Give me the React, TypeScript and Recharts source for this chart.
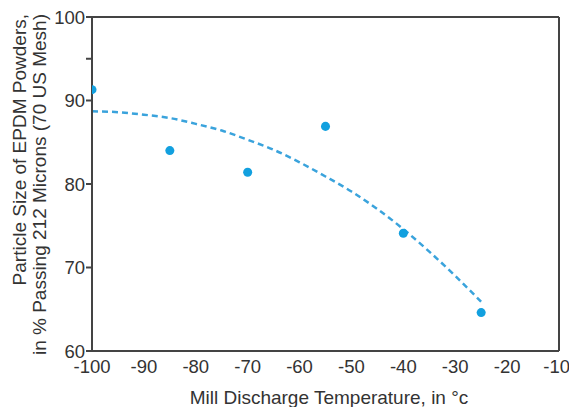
import { ComposedChart, Scatter, Line, XAxis, YAxis, ReferenceLine } from "recharts"

const temps = [-100, -85, -70, -55, -40, -25]
const passing = [91.3, 84.0, 81.4, 86.9, 74.1, 64.6]

const trendTemps = [-100, -95, -90, -85, -80, -75, -70, -65, -60, -55, -50, -45, -40, -35, -30, -25]
const trendValues = [88.7, 88.6, 88.3, 87.9, 87.2, 86.4, 85.3, 84.1, 82.6, 80.9, 79.1, 77.0, 74.6, 71.9, 69.0, 65.9]

const xTicks = [-100, -90, -80, -70, -60, -50, -40, -30, -20, -10]
const yTicks = [60, 70, 80, 90, 95, 100]
const yLabelled = [60, 70, 80, 90, 100]

const points = temps.map((t, i) => ({ x: t, y: passing[i] }))
const trend = trendTemps.map((t, i) => ({ x: t, y: trendValues[i] }))

const font = "'Liberation Sans', Arial, Helvetica, sans-serif"
const axisColor = "#444"
const blue = "#12a0df"

function YTitle() {
  return (
    <g fontFamily={font} fontSize={19} fill="#333">
      <text transform="translate(26, 14) rotate(-90)" textAnchor="end">
        Particle Size of EPDM Powders,
      </text>
      <text transform="translate(46, 14) rotate(-90)" textAnchor="end">
        in % Passing 212 Microns (70 US Mesh)
      </text>
    </g>
  )
}

export default function App() {
  return (
    <div style={{ position: "absolute", left: 0, top: 0, background: "#fff" }}>
      <ComposedChart width={569} height={407} margin={{ top: 17, right: 10, bottom: 16, left: 52 }}>
        <XAxis
          type="number"
          dataKey="x"
          domain={[-100, -10]}
          ticks={xTicks}
          allowDataOverflow
          stroke={axisColor}
          strokeWidth={2}
          tickLine={false}
          tickMargin={3}
          tick={{ fill: "#333", fontSize: 18.5, fontFamily: font }}
          height={40}
        />
        <YAxis
          type="number"
          dataKey="y"
          domain={[60, 100]}
          ticks={yTicks}
          width={40}
          stroke={axisColor}
          strokeWidth={2}
          tickSize={6}
          tickMargin={1}
          tickFormatter={(v: number) => (yLabelled.includes(v) ? String(v) : "")}
          tick={{ fill: "#333", fontSize: 18.5, fontFamily: font }}
        />
        <ReferenceLine y={100} stroke={axisColor} strokeWidth={2} />
        <ReferenceLine x={-10} stroke={axisColor} strokeWidth={2} />
        <Line
          data={trend}
          dataKey="y"
          type="monotone"
          stroke="#3aa3dc"
          strokeWidth={2.5}
          strokeDasharray="6 4"
          dot={false}
          isAnimationActive={false}
        />
        <Scatter data={points} dataKey="y" fill={blue} shape="circle" isAnimationActive={false} />
        <YTitle />
        <text x={329} y={404} textAnchor="middle" fontFamily={font} fontSize={19} fill="#333">
          Mill Discharge Temperature, in °c
        </text>
      </ComposedChart>
    </div>
  )
}
